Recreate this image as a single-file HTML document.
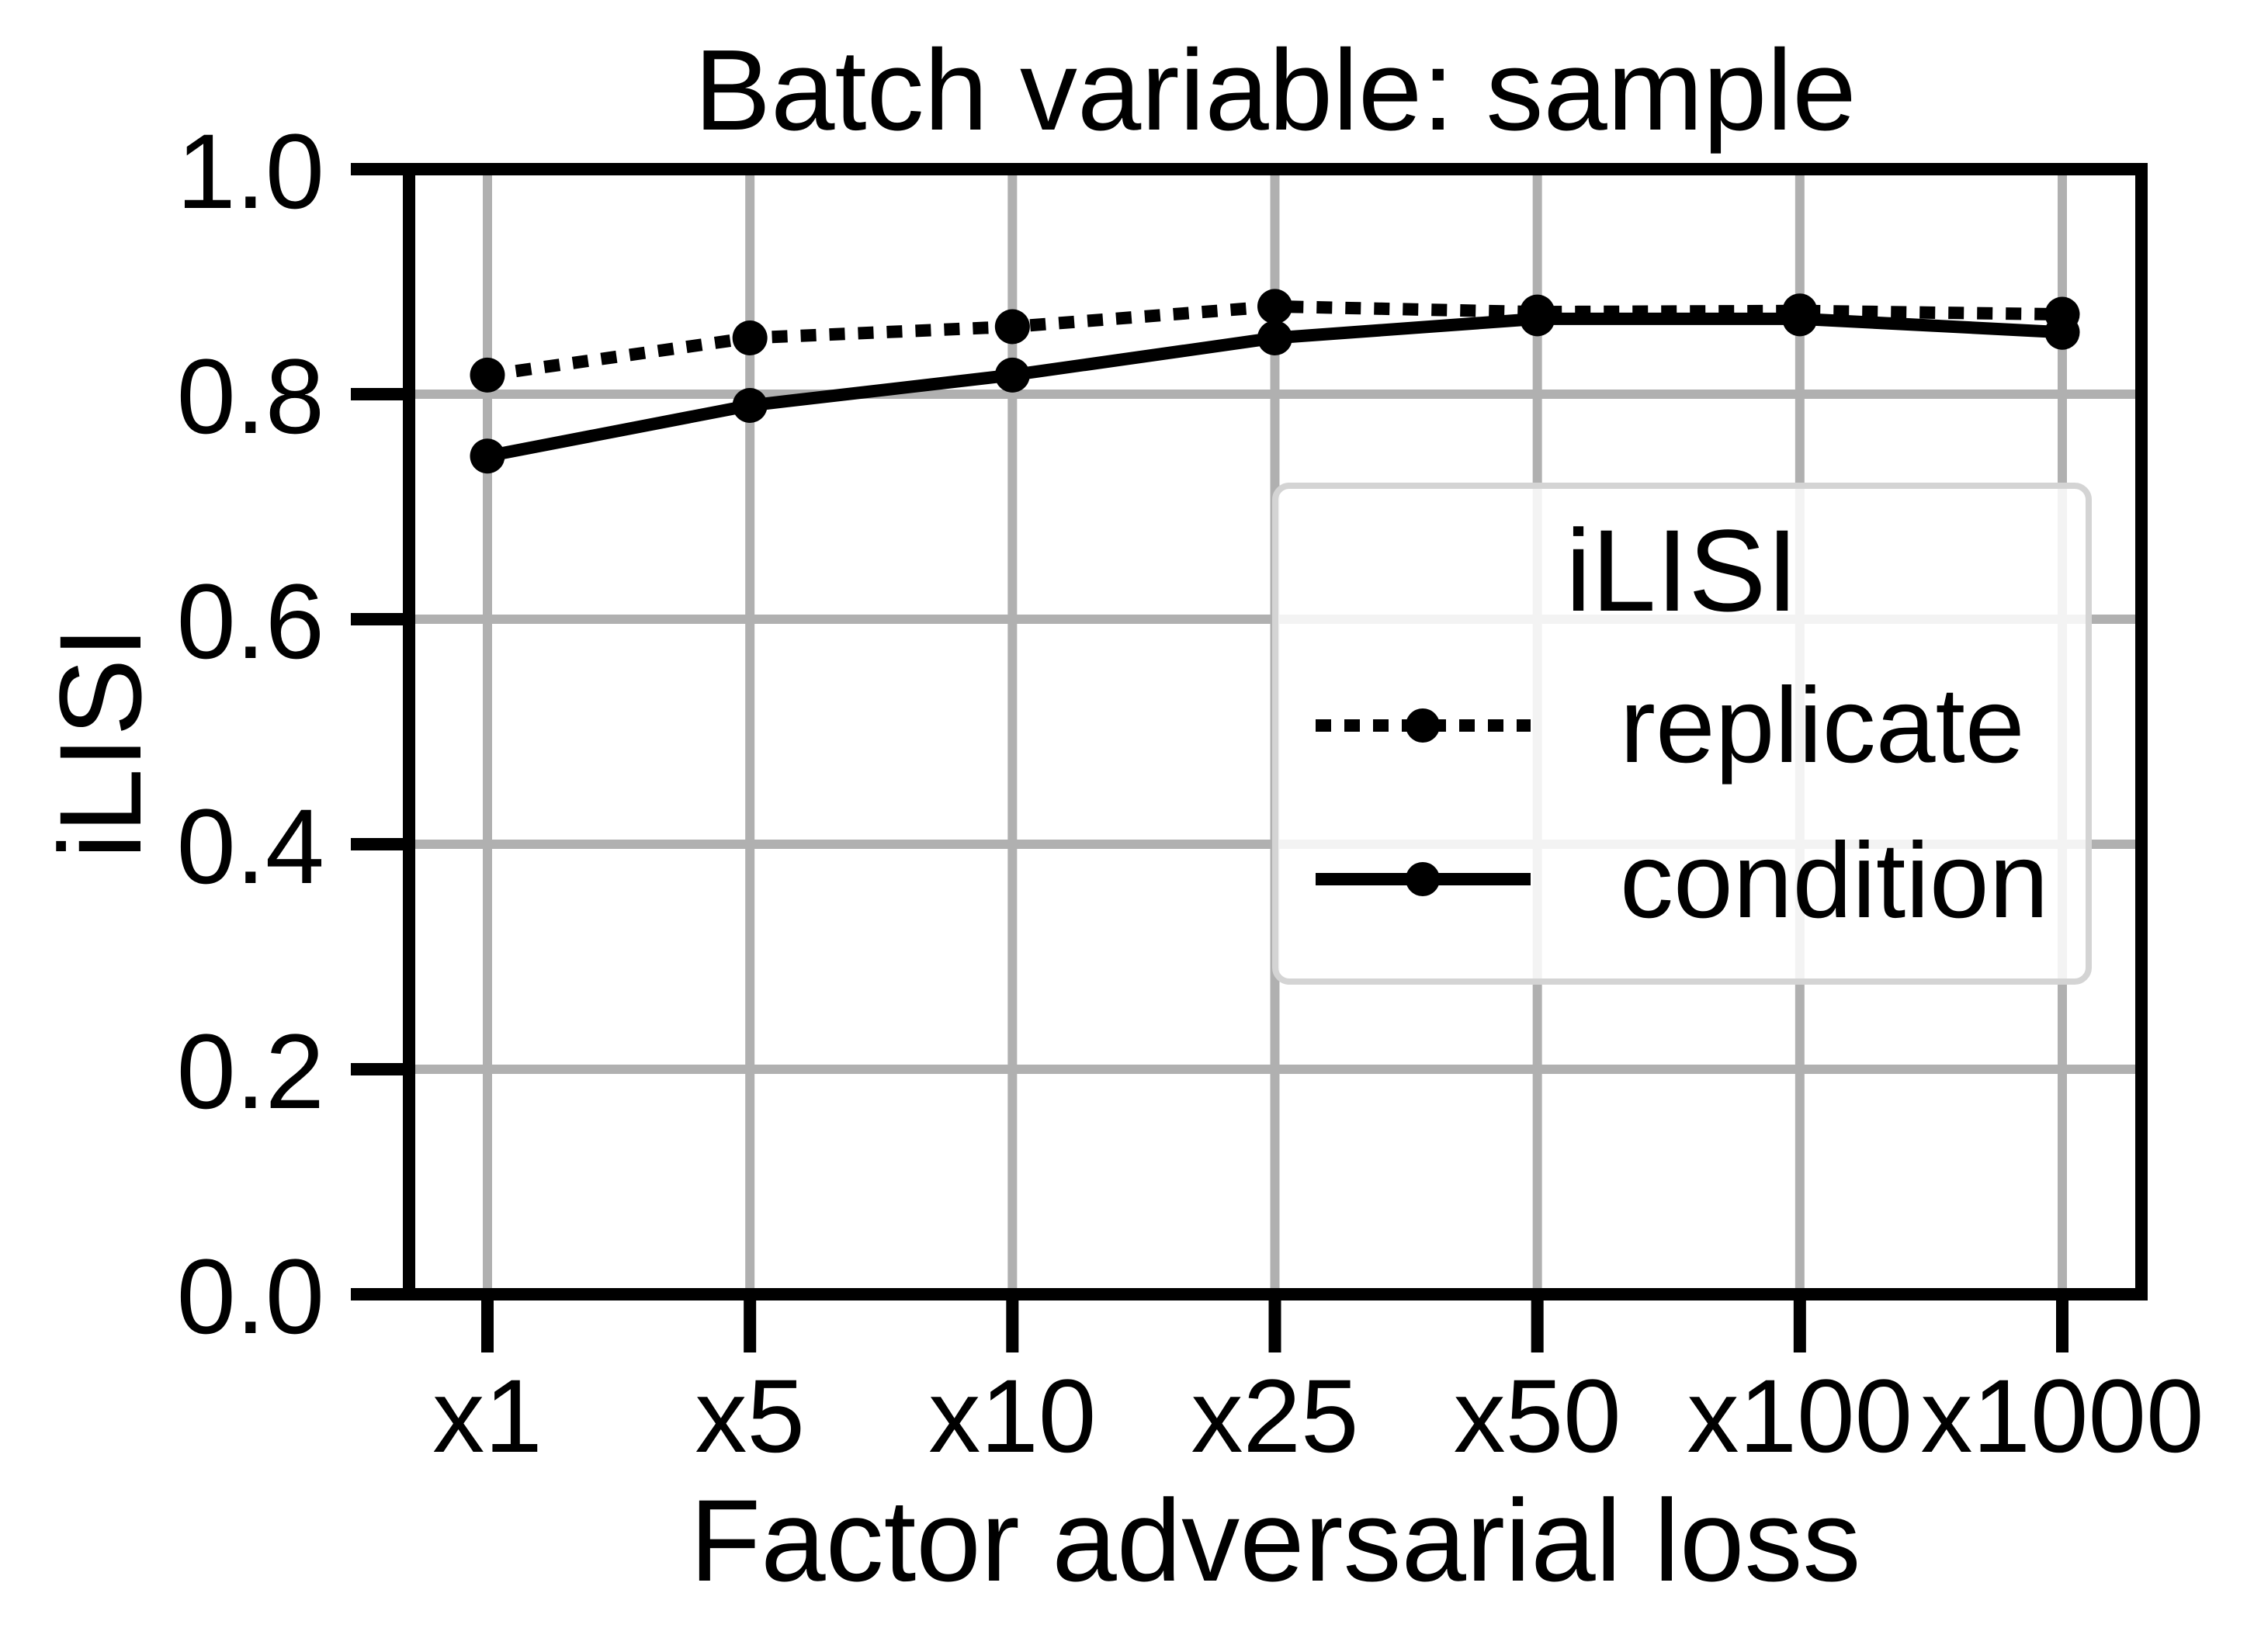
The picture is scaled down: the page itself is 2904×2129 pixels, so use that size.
<!DOCTYPE html>
<html><head><meta charset="utf-8"><style>
html,body{margin:0;padding:0;background:#fff;}
svg{display:block;font-family:"Liberation Sans",Arial,sans-serif;}
</style></head><body>
<svg id="chart" width="2904" height="2129" viewBox="0 0 2904 2129">
<g id="grid"></g>
<g id="series"></g>
<rect x="527" y="218" width="2232" height="1450" fill="none" stroke="#000" stroke-width="16"/>
<g id="ticks"></g>
<text x="1643" y="167" font-size="148" text-anchor="middle">Batch variable: sample</text>
<text x="1643" y="2037" font-size="150" text-anchor="middle">Factor adversarial loss</text>
<text transform="translate(181,957) rotate(-90)" font-size="150" text-anchor="middle">iLISI</text>
<g>
<rect x="1643" y="626" width="1048" height="639" rx="18" fill="#fff" fill-opacity="0.85" stroke="#d4d4d4" stroke-width="8"/>
<text x="2167" y="787" font-size="150" text-anchor="middle">iLISI</text>
<g>
<line x1="1695" y1="935" x2="1972" y2="935" stroke="#000" stroke-width="16" stroke-dasharray="20,17"/>
<circle cx="1833" cy="935" r="22" fill="#000"/>
<text x="2087" y="982" font-size="138">replicate</text>
</g>
<g>
<line x1="1695" y1="1133" x2="1972" y2="1133" stroke="#000" stroke-width="16"/>
<circle cx="1833" cy="1133" r="22" fill="#000"/>
<text x="2087" y="1182" font-size="138">condition</text>
</g>
</g>
</svg>
<script>
const categories = ["x1","x5","x10","x25","x50","x100","x1000"];
const replicateValues = [0.817, 0.850, 0.860, 0.878, 0.873, 0.874, 0.871];
const conditionValues = [0.745, 0.790, 0.817, 0.850, 0.867, 0.867, 0.855];
const yTicks = [0, 0.2, 0.4, 0.6, 0.8, 1.0];
const yTickLabels = ["0.0","0.2","0.4","0.6","0.8","1.0"];

const NS = "http://www.w3.org/2000/svg";
const L=527,R=2759,T=218,B=1668;
function xPos(i){return 628 + i*(2657-628)/(categories.length-1);}
function yPos(v){return B - v*(B-T);}
function mk(tag,attrs,parent){const e=document.createElementNS(NS,tag);for(const k in attrs)e.setAttribute(k,attrs[k]);parent.appendChild(e);return e;}
const grid=document.getElementById('grid'),ticks=document.getElementById('ticks'),series=document.getElementById('series');

yTicks.forEach((v,i)=>{
  const y=yPos(v);
  if(v>0&&v<1){const g=mk('line',{x1:L,x2:R,y1:y,y2:y,stroke:'#b0b0b0','stroke-width':12},grid);
  
  }
  const t=mk('line',{x1:L-75,x2:L,y1:y,y2:y,stroke:'#000','stroke-width':16},ticks);
  
  
  const tx=mk('text',{x:418,y:y+50,'font-size':137,'text-anchor':'end'},ticks);
  tx.textContent=yTickLabels[i];
  
  
});
categories.forEach((c,i)=>{
  const x=xPos(i);
  const g=mk('line',{x1:x,x2:x,y1:T,y2:B,stroke:'#b0b0b0','stroke-width':12},grid);
  
  
  const t=mk('line',{x1:x,x2:x,y1:B,y2:B+75,stroke:'#000','stroke-width':16},ticks);
  
  
  const tx=mk('text',{x:x,y:1871,'font-size':134,'text-anchor':'middle'},ticks);
  tx.textContent=c;
  
  
});
function drawSeries(vals,name,dash){
  const pts=vals.map((v,i)=>xPos(i)+','+yPos(v)).join(' ');
  const a={points:pts,fill:'none',stroke:'#000','stroke-width':16};
  if(dash)a['stroke-dasharray']=dash;
  const pl=mk('polyline',a,series);
  
  
  vals.forEach((v,i)=>{
    const c=mk('circle',{cx:xPos(i),cy:yPos(v),r:22.5,fill:'#000'},series);
    
    
  });
}
drawSeries(replicateValues,'replicate','20,17');
drawSeries(conditionValues,'condition',null);
</script>
</body></html>
